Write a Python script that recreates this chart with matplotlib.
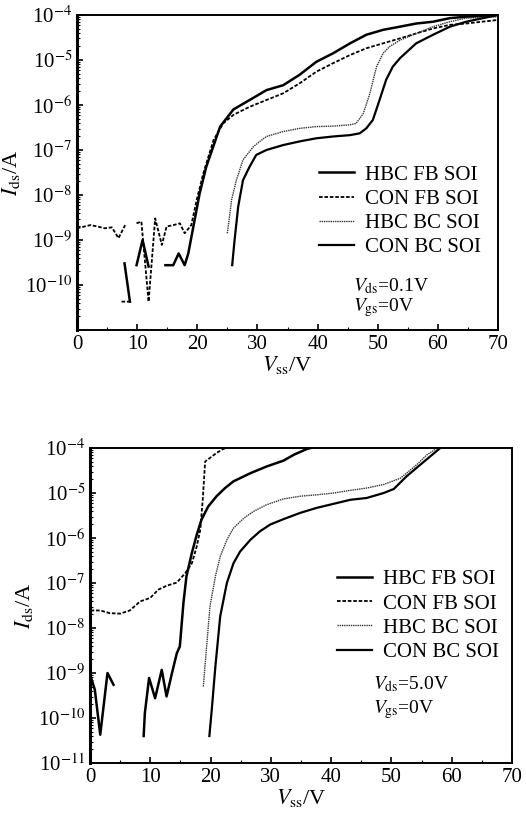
import numpy as np
import matplotlib
matplotlib.use("Agg")
import matplotlib.pyplot as plt
from matplotlib.ticker import FixedLocator, LogLocator, NullFormatter

plt.rcParams['font.family'] = ['Liberation Serif', 'DejaVu Serif']
plt.rcParams['mathtext.fontset'] = 'stix'

nan = np.nan

# ---- top panel: Vds = 0.1 V  (x in V, y as log10(Ids/A), nan = gap)
a_hbc_fb_x = [7.9, 8.8, nan, 9.9, 10.9, 11.9, nan, 14.7, 16.0, 16.9, 17.9, 18.5, 20.4, 21.5, 23.8, 26.0,
              28.7, 31.5, 34.3, 37.0, 39.8, 42.6, 45.4, 48.1, 50.9, 53.7, 56.4, 59.2, 62.0, 64.7, 70.0]
a_hbc_fb_y = [-9.52, -10.37, nan, -9.56, -9.0, -9.59, nan, -9.56, -9.56, -9.3, -9.56, -9.3, -7.96, -7.37,
              -6.48, -6.1, -5.89, -5.67, -5.56, -5.33, -5.04, -4.85, -4.63, -4.44, -4.33, -4.26, -4.19,
              -4.15, -4.07, -4.04, -4.0]
a_con_fb_x = [0.0, 2.2, 3.4, 4.6, 5.8, 6.9, 8.0, nan, 7.4, 8.8, nan, 9.9, 10.7, 11.9, 13.0, 14.1, 14.9,
              16.0, 17.1, 17.9, 19.0, 19.9, 21.0, 22.7, 24.3, 26.0, 28.7, 31.5, 34.3, 37.0, 39.8, 42.6,
              45.4, 48.1, 50.9, 53.7, 56.4, 59.2, 62.0, 64.7, 70.0]
a_con_fb_y = [-8.74, -8.67, -8.7, -8.74, -8.72, -8.96, -8.67, nan, -10.37, -10.37, nan, -8.63, -8.59,
              -10.37, -8.52, -9.11, -8.7, -8.67, -8.63, -8.85, -8.67, -8.11, -7.52, -6.78, -6.41, -6.22,
              -6.04, -5.89, -5.74, -5.52, -5.26, -5.07, -4.89, -4.74, -4.63, -4.52, -4.41, -4.3, -4.22,
              -4.19, -4.11]
a_hbc_bc_x = [25.0, 25.7, 26.5, 27.6, 29.3, 30.4, 31.5, 34.3, 37.0, 39.8, 42.6, 45.4, 46.4, 47.6, 48.7,
              49.8, 50.9, 52.0, 53.7, 56.4, 59.2, 62.0, 64.7, 70.0]
a_hbc_bc_y = [-8.85, -8.11, -7.67, -7.22, -6.93, -6.81, -6.7, -6.59, -6.52, -6.48, -6.47, -6.44, -6.41,
              -6.19, -5.74, -5.15, -4.85, -4.7, -4.56, -4.41, -4.26, -4.15, -4.07, -4.04]
a_con_bc_x = [25.8, 26.2, 26.8, 27.6, 28.7, 29.8, 31.5, 34.3, 37.0, 39.8, 42.6, 45.4, 47.0, 48.1, 49.2,
              50.3, 51.4, 52.5, 53.7, 56.4, 59.2, 62.0, 64.7, 70.0]
a_con_bc_y = [-9.56, -9.0, -8.26, -7.67, -7.37, -7.11, -7.0, -6.89, -6.81, -6.74, -6.7, -6.67, -6.63,
              -6.52, -6.33, -5.89, -5.44, -5.15, -4.96, -4.63, -4.44, -4.26, -4.15, -4.0]

# ---- bottom panel: Vds = 5.0 V
b_hbc_fb_x = [0.1, 0.8, 1.7, 2.9, 3.9, nan, 8.9, 9.1, 9.8, 10.8, 11.9, 12.7, 13.6, 14.4, 14.9, 15.5,
              16.0, 16.9, 17.7, 18.5, 19.6, 21.0, 22.4, 23.8, 26.6, 29.3, 32.1, 33.8, 36.0, 36.6]
b_hbc_fb_y = [-9.07, -9.37, -10.37, -9.0, -9.26, nan, -10.4, -9.89, -9.11, -9.56, -8.93, -9.52, -9.0,
              -8.56, -8.41, -7.44, -6.85, -6.33, -5.93, -5.59, -5.3, -5.07, -4.89, -4.74, -4.56, -4.41,
              -4.28, -4.15, -4.02, -4.0]
b_con_fb_x = [0.1, 1.7, 3.3, 5.0, 6.6, 8.3, 10.0, 11.3, 12.7, 14.4, 15.8, 16.9, 17.7, 18.3, 18.7, 19.1,
              19.9, 21.0, 22.1, 22.7]
b_con_fb_y = [-7.61, -7.61, -7.67, -7.68, -7.61, -7.41, -7.33, -7.15, -7.06, -6.99, -6.78, -6.56, -6.19,
              -5.81, -5.15, -4.3, -4.22, -4.11, -4.02, -4.0]
b_hbc_bc_x = [18.8, 19.3, 19.9, 20.8, 21.6, 22.7, 23.8, 25.5, 27.1, 29.3, 32.1, 34.9, 37.6, 40.4, 43.2,
              45.9, 48.7, 51.5, 54.2, 55.9, 57.6]
b_hbc_bc_y = [-9.3, -8.48, -7.52, -6.85, -6.41, -6.04, -5.78, -5.56, -5.41, -5.26, -5.13, -5.07, -5.04,
              -5.0, -4.94, -4.89, -4.81, -4.67, -4.37, -4.15, -4.0]
b_con_bc_x = [19.8, 20.2, 20.8, 21.6, 22.7, 23.8, 24.9, 26.6, 28.2, 29.9, 32.1, 34.9, 37.6, 40.4, 43.2,
              45.9, 48.7, 50.4, 52.5, 54.8, 56.4, 58.1]
b_con_bc_y = [-10.4, -9.81, -8.85, -7.74, -7.0, -6.56, -6.3, -6.04, -5.85, -5.7, -5.58, -5.44, -5.33,
              -5.24, -5.15, -5.11, -5.0, -4.91, -4.63, -4.37, -4.19, -4.0]

labels = ["HBC FB SOI", "CON FB SOI", "HBC BC SOI", "CON BC SOI"]
x_ticks = [0, 10, 20, 30, 40, 50, 60, 70]

styles = [dict(color='black', lw=1.8, ls='-'),
          dict(color='black', lw=1.3, ls=(0, (2, 1))),
          dict(color='#333333', lw=1.0, ls=(0, (1, 0.6))),
          dict(color='black', lw=1.6, ls='-')]


def draw(ax, series, ylabels_min, vds_text, leg_anchor, txt_pos, gap):
    for (xs, ys), lab, st in zip(series, labels, styles):
        ax.plot(xs, 10.0 ** np.array(ys, dtype=float), label=lab, **st)
    ax.set_yscale('log')
    ax.set_xlim(0, 70)
    ax.set_ylim(1e-11, 1e-4)
    ax.set_xticks(x_ticks)
    ax.xaxis.set_minor_locator(FixedLocator([5, 15, 25, 35, 45, 55, 65]))
    yt = [10.0 ** e for e in range(ylabels_min, -3)]
    ax.yaxis.set_major_locator(FixedLocator(yt))
    ax.set_yticklabels(['10$^{%d}$' % e for e in range(ylabels_min, -3)])
    ax.yaxis.set_minor_locator(LogLocator(base=10, subs=np.arange(2, 10), numticks=20))
    ax.yaxis.set_minor_formatter(NullFormatter())
    ax.tick_params(which='both', direction='in', top=False, right=False, labelsize=15)
    ax.tick_params(which='major', length=4, width=1.2)
    ax.tick_params(which='minor', length=2, width=0.8)
    for s in ax.spines.values():
        s.set_linewidth(1.4)
    ax.spines['left'].set_linewidth(2.2)
    ax.set_ylabel('$I_{\\rm ds}$/A', fontsize=16, labelpad=2)
    ax.set_xlabel('$V_{\\rm ss}$/V', fontsize=16, labelpad=0)
    ax.legend(loc='upper left', bbox_to_anchor=leg_anchor, frameon=False, fontsize=15,
              handlelength=1.7, handletextpad=0.5, labelspacing=0.22, borderaxespad=0)
    ax.text(txt_pos[0], txt_pos[1], '$V_{\\rm ds}$=' + vds_text, transform=ax.transAxes,
            fontsize=14, va='center')
    ax.text(txt_pos[0], txt_pos[1] - gap, '$V_{\\rm gs}$=0V', transform=ax.transAxes,
            fontsize=14, va='center')


fig = plt.figure(figsize=(5.26, 8.18), dpi=100)
ax1 = fig.add_axes([0.1464, 0.5966, 0.8004, 0.3851])
ax2 = fig.add_axes([0.1711, 0.0672, 0.8023, 0.3851])

draw(ax1, [(a_hbc_fb_x, a_hbc_fb_y), (a_con_fb_x, a_con_fb_y), (a_hbc_bc_x, a_hbc_bc_y),
           (a_con_bc_x, a_con_bc_y)], -10, '0.1V', (0.555, 0.55), (0.655, 0.14), 0.068)
draw(ax2, [(b_hbc_fb_x, b_hbc_fb_y), (b_con_fb_x, b_con_fb_y), (b_hbc_bc_x, b_hbc_bc_y),
           (b_con_bc_x, b_con_bc_y)], -11, '5.0V', (0.565, 0.64), (0.67, 0.25), 0.08)

fig.savefig('out.png', dpi=100)
